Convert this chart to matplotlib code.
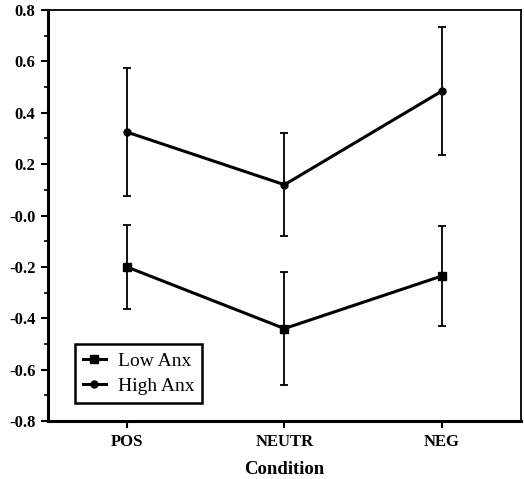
import matplotlib
matplotlib.use("Agg")
import matplotlib.pyplot as plt
from matplotlib.ticker import MultipleLocator, FixedLocator

conditions = ["POS", "NEUTR", "NEG"]
low_anx = [-0.20, -0.44, -0.235]
low_err = [0.165, 0.22, 0.195]
high_anx = [0.325, 0.12, 0.485]
high_err = [0.25, 0.20, 0.25]
yticks = [0.8, 0.6, 0.4, 0.2, 0.0, -0.2, -0.4, -0.6, -0.8]
ytick_labels = ["0.8", "0.6", "0.4", "0.2", "-0.0", "-0.2", "-0.4", "-0.6", "-0.8"]

plt.rcParams['font.family'] = ['Liberation Serif', 'DejaVu Serif']

fig = plt.figure(figsize=(5.24, 4.79), dpi=100)
ax = fig.add_axes([0.0916, 0.121, 0.9024, 0.858])

x = list(range(1, len(conditions) + 1))
for vals, errs in [(low_anx, low_err), (high_anx, high_err)]:
    ax.errorbar(x, vals, yerr=errs, fmt='none', ecolor='black',
                capsize=3, elinewidth=1.3, capthick=1.3)
ax.plot(x, low_anx, color='black', lw=2.2, marker='s', ms=6, label='Low Anx')
ax.plot(x, high_anx, color='black', lw=2.2, marker='o', ms=5, label='High Anx')

ax.set_xlim(0.5, 3.5)
ax.set_ylim(-0.8, 0.8)
ax.set_xticks(x)
ax.set_xticklabels(conditions, fontweight='bold', fontsize=12)
ax.yaxis.set_major_locator(FixedLocator(yticks))
ax.set_yticklabels(ytick_labels, fontweight='bold', fontsize=12)
ax.yaxis.set_minor_locator(MultipleLocator(0.1))
ax.tick_params(axis='both', which='major', direction='out', length=5, width=1.5, pad=4)
ax.tick_params(axis='y', which='minor', direction='out', length=3, width=1.2)
ax.set_xlabel("Condition", fontweight='bold', fontsize=13.5, labelpad=8)

ax.spines['left'].set_linewidth(2.2)
ax.spines['bottom'].set_linewidth(2.2)
ax.spines['top'].set_linewidth(1.3)
ax.spines['right'].set_linewidth(1.3)

leg = ax.legend(loc='lower left', bbox_to_anchor=(0.057, 0.044), borderaxespad=0,
                fontsize=14, frameon=True, fancybox=False, edgecolor='black',
                framealpha=1, handlelength=1.2, handletextpad=0.6,
                borderpad=0.4, labelspacing=0.4)
leg.get_frame().set_linewidth(1.8)

fig.savefig("out.png", dpi=100)
